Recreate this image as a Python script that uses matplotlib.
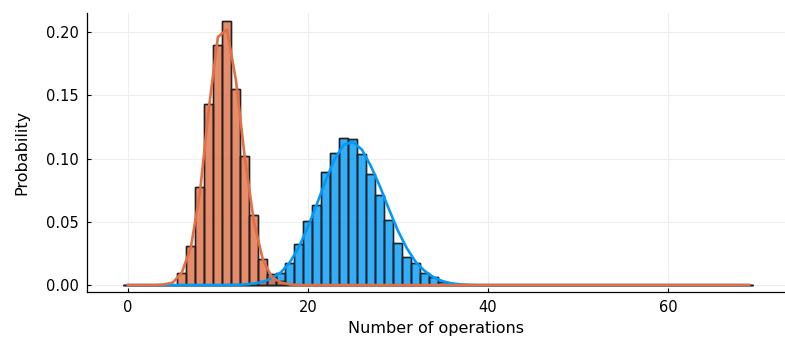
import numpy as np
import matplotlib
matplotlib.use('Agg')
import matplotlib.pyplot as plt

# outcomes 0..69
k = np.arange(0, 70)

# histogram heights, index = number of operations
orange_hist = {6: 0.0092, 7: 0.0308, 8: 0.0775, 9: 0.143, 10: 0.190, 11: 0.2087,
               12: 0.155, 13: 0.102, 14: 0.0553, 15: 0.0203, 16: 0.0085, 17: 0.003}
blue_hist = {14: 0.001, 15: 0.003, 16: 0.006, 17: 0.0097, 18: 0.0177, 19: 0.0324,
             20: 0.0508, 21: 0.0635, 22: 0.0891, 23: 0.104, 24: 0.116, 25: 0.1154,
             26: 0.1036, 27: 0.0875, 28: 0.0711, 29: 0.0514, 30: 0.0329, 31: 0.0224,
             32: 0.0171, 33: 0.0092, 34: 0.006, 35: 0.0024, 36: 0.0008}

# smooth curves
orange_curve = {4: 0.0005, 5: 0.002, 6: 0.010, 7: 0.030, 8: 0.073, 9: 0.140,
                10: 0.196, 11: 0.202, 12: 0.162, 13: 0.100, 14: 0.050, 15: 0.020,
                16: 0.006, 17: 0.002, 18: 0.0005}
blue_curve = {12: 0.0002, 13: 0.0005, 14: 0.0012, 15: 0.0025, 16: 0.0055, 17: 0.010,
              18: 0.018, 19: 0.030, 20: 0.046, 21: 0.064, 22: 0.083, 23: 0.100,
              24: 0.111, 25: 0.113, 26: 0.107, 27: 0.094, 28: 0.078, 29: 0.060,
              30: 0.043, 31: 0.029, 32: 0.018, 33: 0.011, 34: 0.006, 35: 0.003,
              36: 0.0013, 37: 0.0005, 38: 0.0002}

def full(d):
    return np.array([d.get(int(i), 0.0) for i in k])

blue_c = '#009AFA'
orange_c = '#E26F46'

fig = plt.figure(figsize=(7.85, 3.42), dpi=100)
ax = fig.add_axes([0.1108, 0.1462, 0.889, 0.8158])

ax.bar(k, full(blue_hist), width=1.0, color=blue_c, alpha=0.8, edgecolor='black', linewidth=1.0)
ax.bar(k, full(blue_hist), width=1.0, color='none', edgecolor='#222222', linewidth=1.0)
ax.bar(k, full(orange_hist), width=1.0, color=orange_c, alpha=0.8, edgecolor='black', linewidth=1.0)
ax.bar(k, full(orange_hist), width=1.0, color='none', edgecolor='#222222', linewidth=1.0)
ax.plot(k, full(blue_curve), color=blue_c, lw=1.9)
ax.plot(k, full(orange_curve), color=orange_c, lw=1.9)

ax.set_xlim(-4.55, 73)
ax.set_ylim(-0.0055, 0.215)
ax.set_xticks([0, 20, 40, 60])
ax.set_yticks([0.0, 0.05, 0.10, 0.15, 0.20])
ax.set_yticklabels(['0.00', '0.05', '0.10', '0.15', '0.20'])
ax.grid(True, color='#ededed', linewidth=0.8)
ax.set_axisbelow(True)
for s in ['top', 'right']:
    ax.spines[s].set_visible(False)
for s in ['left', 'bottom']:
    ax.spines[s].set_linewidth(0.9)
ax.tick_params(direction='in', length=3, width=0.8, labelsize=10.5, pad=6)

ax.set_xlabel('Number of operations', fontsize=11.5, labelpad=4)
ax.set_ylabel('Probability', fontsize=11.5, labelpad=12)

fig.savefig('out.png', dpi=100)
